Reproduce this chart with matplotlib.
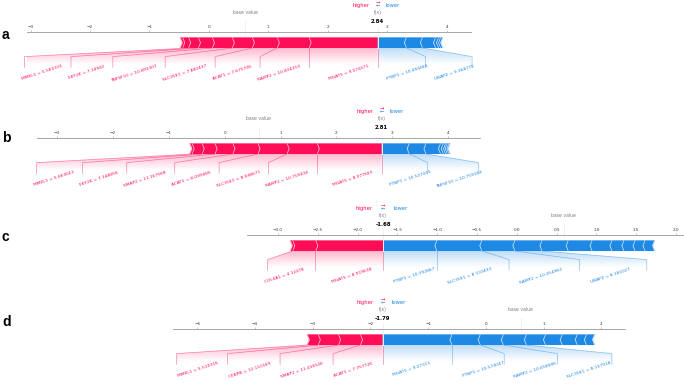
import matplotlib
matplotlib.use('Agg')
import matplotlib.pyplot as plt
import numpy as np
from matplotlib.colors import LinearSegmentedColormap
from matplotlib.patches import PathPatch, Polygon
from matplotlib.path import Path
from matplotlib.ticker import MaxNLocator

POS_COLOR = '#FF0D57'
POS_SEP = '#FFC3D5'
NEG_COLOR = '#1E88E5'
NEG_SEP = '#D1E6FA'

FIG_W, FIG_H = 684, 388
Y_SCALE = 107.0  # pixels per y unit inside a panel
TEXT_ROT = 18
LABEL_SIZE = 3.2

# ---- panel a ----
a_base = 0.61
a_out = 2.84
a_pos_names = ['MGAT5', 'RAMP2', 'ACAT1', 'SLC35E1', 'TNFSF10', 'EEF2K', 'MMEL1']
a_pos_values = ['9.074371', '10.834253', '7.675706', '7.882437', '10.893307', '7.14942', '5.583333']
a_pos_effects = [1.16, 0.535, 0.42, 0.337, 0.335, 0.235, 0.165]
a_pos_rest = [0.10, 0.04]
a_neg_names = ['PTBP1', 'UBAP2']
a_neg_values = ['10.494466', '9.368775']
a_neg_effects = [0.49, 0.27]
a_neg_rest = [0.22, 0.05, 0.035, 0.035]

# ---- panel b ----
b_base = 0.61
b_out = 2.81
b_pos_names = ['MGAT5', 'RAMP2', 'SLC35E1', 'ACAT1', 'SMAP2', 'EEF2K', 'MMEL1']
b_pos_values = ['8.077665', '10.759434', '8.048671', '8.099468', '11.167668', '7.148856', '5.663641']
b_pos_effects = [1.16, 0.54, 0.52, 0.45, 0.32, 0.23, 0.18]
b_pos_rest = [0.04]
b_neg_names = ['PTBP1', 'TNFSF10']
b_neg_values = ['10.527415', '10.759164']
b_neg_effects = [0.50, 0.30]
b_neg_rest = [0.26, 0.05, 0.04, 0.03, 0.03, 0.02]

# ---- panel c ----
c_base = 0.59
c_out = -1.68
c_pos_names = ['MGAT5', 'COL4A1']
c_pos_values = ['8.919638', '4.12478']
c_pos_effects = [0.85, 0.29]
c_pos_rest = [0.03]
c_neg_names = ['PTBP1', 'SLC35E1', 'RAMP2', 'UBAP2']
c_neg_values = ['10.392867', '8.110433', '10.454962', '8.181027']
c_neg_effects = [0.68, 0.565, 0.415, 0.34]
c_neg_rest = [0.33, 0.30, 0.25, 0.15, 0.14, 0.125, 0.12]

# ---- panel d ----
d_base = 0.60
d_out = -1.79
d_pos_names = ['ACAT1', 'SMAP2', 'CEBPB', 'MMEL1']
d_pos_values = ['7.757726', '11.430546', '12.110169', '5.510316']
d_pos_effects = [0.39, 0.38, 0.35, 0.19]
d_pos_rest = []
d_neg_names = ['MGAT5', 'PTBP1', 'RAMP2', 'SLC35E1']
d_neg_values = ['9.27311', '10.574047', '10.658686', '8.157918']
d_neg_effects = [1.21, 0.49, 0.40, 0.40]
d_neg_rest = [0.33, 0.29, 0.26, 0.16, 0.14]

# layout of each panel on the page (pixels), its x range and label spacing
PANELS = [
    dict(letter='a', base=a_base, out=a_out,
         pos=(a_pos_names, a_pos_values, a_pos_effects, a_pos_rest),
         neg=(a_neg_names, a_neg_values, a_neg_effects, a_neg_rest),
         left=27, right=471, spine=32, xlim=(-3.06, 4.41), letter_y=35,
         gap=0.03, pos_shift=0.4, neg_shift=-0.3),
    dict(letter='b', base=b_base, out=b_out,
         pos=(b_pos_names, b_pos_values, b_pos_effects, b_pos_rest),
         neg=(b_neg_names, b_neg_values, b_neg_effects, b_neg_rest),
         left=37, right=480, spine=138, xlim=(-3.36, 4.57), letter_y=138,
         gap=0.03, pos_shift=0.45, neg_shift=-0.6),
    dict(letter='c', base=c_base, out=c_out,
         pos=(c_pos_names, c_pos_values, c_pos_effects, c_pos_rest),
         neg=(c_neg_names, c_neg_values, c_neg_effects, c_neg_rest),
         left=247, right=684, spine=235, xlim=(-3.39, 2.10), letter_y=237,
         gap=0.028, pos_shift=0.3, neg_shift=1.6),
    dict(letter='d', base=d_base, out=d_out,
         pos=(d_pos_names, d_pos_values, d_pos_effects, d_pos_rest),
         neg=(d_neg_names, d_neg_values, d_neg_effects, d_neg_rest),
         left=173, right=625, spine=329, xlim=(-5.42, 2.41), letter_y=322,
         gap=0.032, pos_shift=0.0, neg_shift=0.0),
]


def draw_bars(ax, out_value, effects, kind, sep_width, bar_h=0.1):
    pre = out_value
    for i, eff in enumerate(effects):
        if kind == 'pos':
            left, right = pre - eff, pre
            pre = left
            indent = sep_width
            sep_pos = left
            color, sep_color = POS_COLOR, POS_SEP
        else:
            left, right = pre, pre + eff
            pre = right
            indent = -sep_width
            sep_pos = right
            color, sep_color = NEG_COLOR, NEG_SEP

        if i == 0:
            if kind == 'pos':
                pts = [[left, 0], [right, 0], [right, bar_h], [left, bar_h], [left + indent, bar_h / 2]]
            else:
                pts = [[right, 0], [left, 0], [left, bar_h], [right, bar_h], [right + indent, bar_h / 2]]
        else:
            pts = [[left, 0], [right, 0], [right + indent * 0.9, bar_h / 2], [right, bar_h],
                   [left, bar_h], [left + indent * 0.9, bar_h / 2]]
        ax.add_patch(Polygon(pts, closed=True, facecolor=color, linewidth=0))
        ax.add_patch(Polygon([[sep_pos, 0], [sep_pos + indent, bar_h / 2], [sep_pos, bar_h]],
                             closed=False, fill=False, edgecolor=sep_color, lw=0.9))


def draw_labels(ax, renderer, out_value, names, values, effects, kind, offset, shift):
    if kind == 'pos':
        color, sign, ha = POS_COLOR, 1, 'right'
    else:
        color, sign, ha = NEG_COLOR, -1, 'left'

    line_kw = dict(lw=0.5, alpha=0.5, color=color, clip_on=False)
    if kind == 'pos':
        ax.plot([out_value, out_value], [0, -0.18], **line_kw)

    inv = ax.transData.inverted()
    start = out_value
    pre = out_value
    box_end = out_value
    for name, value, eff in zip(names, values, effects):
        val = pre - sign * eff
        txt = ax.text(start - sign * offset, -0.15, f'{name} = {value}', fontsize=LABEL_SIZE,
                      color=color, ha=ha, va='top', rotation=TEXT_ROT, clip_on=False)
        ext = txt.get_window_extent(renderer).transformed(inv)
        edge = ext.x0 if kind == 'pos' else ext.x1
        if sign * edge > sign * val:
            ax.plot([val, val], [0, -0.18], **line_kw)
            start = box_end = val
        else:
            box_end = edge + shift * offset
            ax.plot([val, box_end, box_end], [0, -0.08, -0.18], **line_kw)
            start = box_end
        pre = val

    # fading shade under the bars
    path = Path([[out_value, 0], [pre, 0], [box_end, -0.08], [box_end, -0.2],
                 [out_value, -0.2], [out_value, 0]])
    patch = PathPatch(path, facecolor='none', edgecolor='none')
    ax.add_patch(patch)
    cm = LinearSegmentedColormap.from_list('cm', [color, 'white'])
    _, z = np.meshgrid(np.linspace(0, 10), np.linspace(-10, 10))
    im = ax.imshow(z, interpolation='quadric', cmap=cm, vmax=0.01, alpha=0.3, origin='lower',
                   extent=[out_value, box_end, 0, -0.31], aspect='auto')
    im.set_clip_path(patch)


def force_panel(fig, renderer, p):
    h = 0.65 * Y_SCALE
    ax = fig.add_axes([p['left'] / FIG_W, 1 - (p['spine'] + h) / FIG_H,
                       (p['right'] - p['left']) / FIG_W, h / FIG_H])
    ax.set_xlim(*p['xlim'])
    ax.set_ylim(-0.5, 0.15)
    ax.xaxis.set_major_locator(MaxNLocator(nbins=12, steps=[1, 2, 2.5, 5, 10]))
    ax.tick_params(top=True, bottom=False, left=False, right=False, labelleft=False,
                   labeltop=True, labelbottom=False, labelsize=3, length=1.5, width=0.4,
                   pad=1, color='#999999', labelcolor='#333333')
    for key, spine in ax.spines.items():
        if key != 'top':
            spine.set_visible(False)
    ax.spines['top'].set_color('#999999')
    ax.spines['top'].set_linewidth(0.6)
    ax.set_facecolor('none')

    out_value = p['out']
    pos_names, pos_values, pos_eff, pos_rest = p['pos']
    neg_names, neg_values, neg_eff, neg_rest = p['neg']
    total_pos = sum(pos_eff) + sum(pos_rest)
    total_neg = sum(neg_eff) + sum(neg_rest)
    offset = p['gap'] * (total_pos + total_neg)
    sep_width = (p['xlim'][1] - p['xlim'][0]) / 200

    draw_bars(ax, out_value, list(pos_eff) + list(pos_rest), 'pos', sep_width)
    draw_bars(ax, out_value, list(neg_eff) + list(neg_rest), 'neg', sep_width)

    draw_labels(ax, renderer, out_value, neg_names, neg_values, neg_eff, 'neg', offset, p['neg_shift'])
    draw_labels(ax, renderer, out_value, pos_names, pos_values, pos_eff, 'pos', offset, p['pos_shift'])

    # higher / lower legend
    ax.text(out_value - offset, 0.385, 'higher', fontsize=3.8, color=POS_COLOR, ha='right', clip_on=False)
    ax.text(out_value + offset, 0.385, 'lower', fontsize=3.8, color=NEG_COLOR, ha='left', clip_on=False)
    ax.text(out_value, 0.38, '\u2190', fontsize=3.8, color=NEG_COLOR, ha='center', clip_on=False)
    ax.text(out_value, 0.405, '\u2192', fontsize=3.8, color=POS_COLOR, ha='center', clip_on=False)

    # base value
    ax.plot([p['base'], p['base']], [0.13, 0.25], lw=0.7, color='#F2F2F2', clip_on=False)
    ax.text(p['base'], 0.315, 'base value', fontsize=3.3, alpha=0.5, ha='center', clip_on=False,
            bbox=dict(facecolor='white', edgecolor='white', pad=0.8))

    # output value
    ax.plot([out_value, out_value], [0, 0.24], lw=0.7, color='#F2F2F2', clip_on=False)
    ax.text(out_value, 0.235, f'{out_value:.2f}', fontsize=3.9, fontweight='bold', ha='center',
            clip_on=False, bbox=dict(facecolor='white', edgecolor='white', pad=0.8))
    ax.text(out_value, 0.315, 'f(x)', fontsize=3.3, alpha=0.5, ha='center', clip_on=False,
            bbox=dict(facecolor='white', edgecolor='white', pad=0.8))

    fig.text(2 / FIG_W, 1 - p['letter_y'] / FIG_H, p['letter'], fontsize=10, fontweight='bold',
             family='Liberation Sans', va='center', ha='left')
    return ax


fig = plt.figure(figsize=(FIG_W / 100, FIG_H / 100), dpi=100)
renderer = fig.canvas.get_renderer()
for panel in PANELS:
    force_panel(fig, renderer, panel)

fig.savefig('out.png', dpi=100)
